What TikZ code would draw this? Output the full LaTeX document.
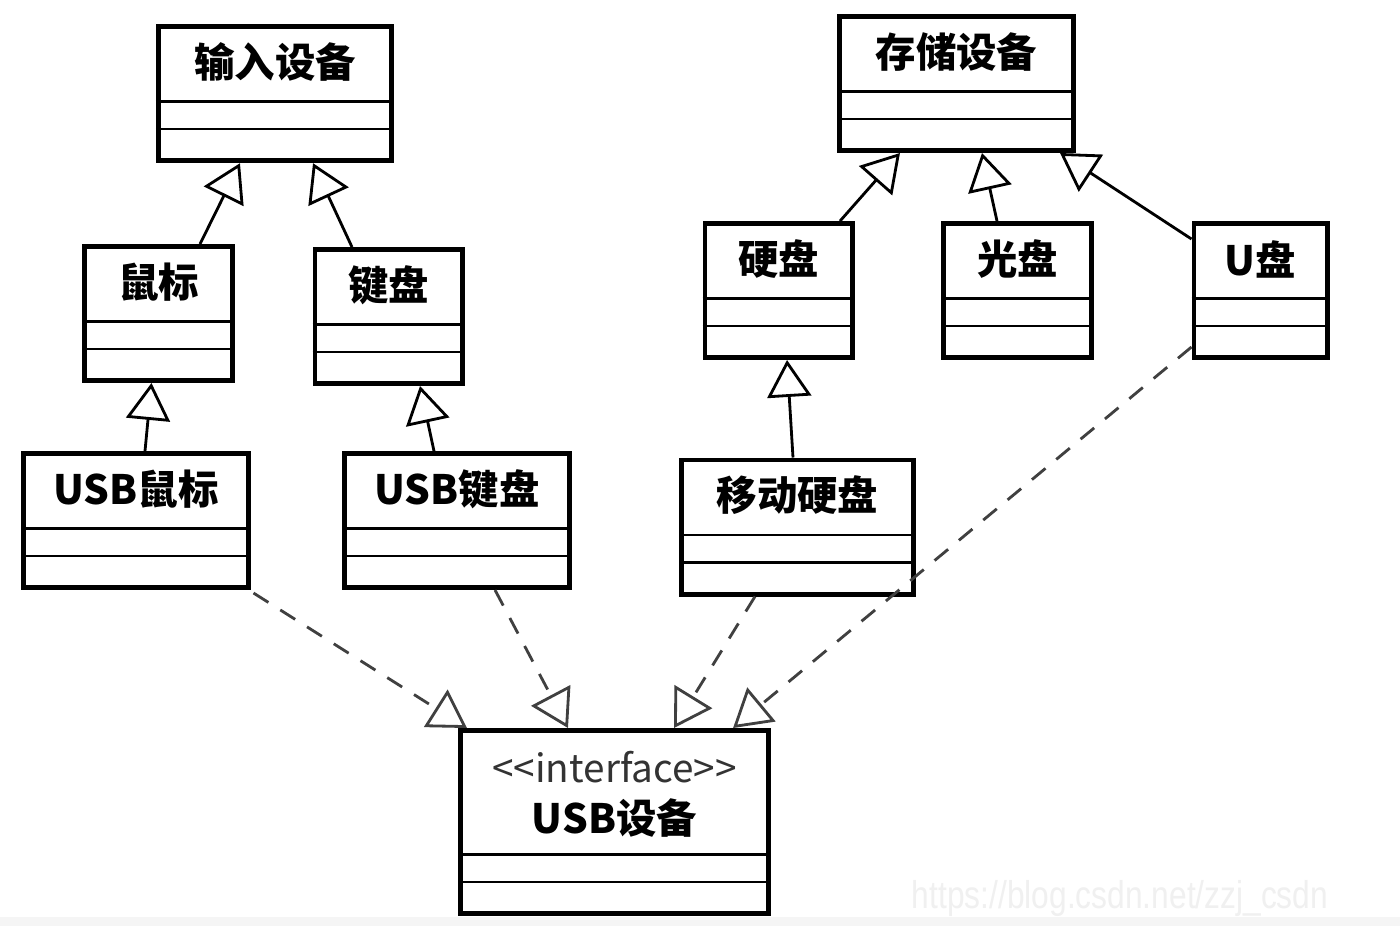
\documentclass[tikz,border=0pt]{standalone}
\usepackage{fontspec}
\newfontfamily\cjk{Noto Sans CJK SC}
\newfontfamily\wmfont{Liberation Sans}
\usetikzlibrary{arrows.meta,positioning}

\begin{document}
\begin{tikzpicture}[x=0.01cm,y=-0.01cm,
        klasse/.style={draw, line width=1.4pt, minimum height=1.34cm},
        titel/.style={font=\cjk\bfseries\fontsize{11.5}{13}\selectfont, inner sep=0pt},
        fach/.style={line width=0.7pt},
        erbt/.style={line width=0.8pt, -{Triangle[open, length=10.5pt, width=12.5pt]}},
        impl/.style={erbt, dash pattern=on 5pt off 4pt, draw=black!75}]
    \useasboundingbox[fill=white] (0,0) rectangle (1400,926);
    % Rand unten + Wasserzeichen:
    \fill[black!4] (0,917) rectangle (1400,926);
    \node[font=\wmfont\fontsize{11}{12}\selectfont, text=black!6, xscale=0.82] (wm) at (1120,898) {https://blog.csdn.net/zzj\_csdn};

    % oberste Klassen:
    \node[klasse, minimum width=2.33cm] (eingabe) at (275,93.7) {};
    \node[titel] (eingabe-t) at ([yshift=-0.38cm]eingabe.north) {输入设备};
    \node[klasse, minimum width=2.33cm] (speicher) at (956.5,83.5) {};
    \node[titel] (speicher-t) at ([yshift=-0.38cm]speicher.north) {存储设备};

    % mittlere Klassen:
    \node[klasse, minimum width=1.47cm] (maus) at (158.5,313.5) {};
    \node[titel] (maus-t) at ([yshift=-0.38cm]maus.north) {鼠标};
    \node[klasse, minimum width=1.47cm] (tastatur) at (388.5,316.5) {};
    \node[titel] (tastatur-t) at ([yshift=-0.38cm]tastatur.north) {键盘};
    \node[klasse, minimum width=1.47cm] (festplatte) at (778.5,290.5) {};
    \node[titel] (festplatte-t) at ([yshift=-0.38cm]festplatte.north) {硬盘};
    \node[klasse, minimum width=1.48cm] (cd) at (1017.5,290.5) {};
    \node[titel] (cd-t) at ([yshift=-0.38cm]cd.north) {光盘};
    \node[klasse, minimum width=1.33cm] (stick) at (1260.5,290.5) {};
    \node[titel] (stick-t) at ([yshift=-0.38cm]stick.north) {U盘};

    % untere Klassen:
    \node[klasse, minimum width=2.24cm] (usbmaus) at (136,520.5) {};
    \node[titel] (usbmaus-t) at ([yshift=-0.38cm]usbmaus.north) {USB鼠标};
    \node[klasse, minimum width=2.24cm] (usbtast) at (457,520.5) {};
    \node[titel] (usbtast-t) at ([yshift=-0.38cm]usbtast.north) {USB键盘};
    \node[klasse, minimum width=2.31cm] (mobil) at (797.5,527) {};
    \node[titel] (mobil-t) at ([yshift=-0.38cm]mobil.north) {移动硬盘};

    % Interface:
    \node[klasse, minimum width=3.07cm, minimum height=1.83cm] (usb) at (614.5,822) {};
    \node[font=\cjk\fontsize{11}{12}\selectfont, text=black!80, inner sep=0pt] (usb-s)
        at ([yshift=-0.39cm]usb.north) {<{}<interface>{}>};
    \node[titel] (usb-t) at ([yshift=-0.9cm]usb.north) {USB设备};

    % Trennlinien:
    \foreach \k in {eingabe,speicher,maus,tastatur,festplatte,cd,stick,usbmaus,usbtast,mobil,usb} {
        \draw[fach] ([yshift=0.615cm]\k.south west) -- ([yshift=0.615cm]\k.south east);
        \draw[fach] ([yshift=0.34cm]\k.south west) -- ([yshift=0.34cm]\k.south east);
    }

    % Vererbung:
    \draw[erbt] ([xshift=0.415cm]maus.north) -- ([xshift=-0.35cm]eingabe.south);
    \draw[erbt] ([xshift=-0.365cm]tastatur.north) -- ([xshift=0.38cm]eingabe.south);
    \draw[erbt] ([xshift=0.09cm]usbmaus.north) -- ([xshift=-0.07cm]maus.south);
    \draw[erbt] ([xshift=-0.23cm]usbtast.north) -- ([xshift=0.315cm]tastatur.south);
    \draw[erbt] ([xshift=0.615cm]festplatte.north) -- ([xshift=-0.565cm]speicher.south);
    \draw[erbt] ([xshift=-0.205cm]cd.north) -- ([xshift=0.255cm]speicher.south);
    \draw[erbt] ([yshift=-0.18cm]stick.north west) -- ([xshift=1.035cm]speicher.south);
    \draw[erbt] ([xshift=-0.045cm]mobil.north) -- ([xshift=0.085cm]festplatte.south);

    % Realisierung:
    \draw[impl] ([xshift=0.03cm,yshift=-0.03cm]usbmaus.south east) -- ([xshift=-1.475cm]usb.north);
    \draw[impl] ([xshift=0.38cm]usbtast.south) -- ([xshift=-0.465cm]usb.north);
    \draw[impl] ([xshift=-0.425cm]mobil.south) -- ([xshift=0.595cm]usb.north);
    \draw[impl] ([yshift=0.13cm]stick.south west) -- ([xshift=1.185cm]usb.north);
\end{tikzpicture}
\end{document}
